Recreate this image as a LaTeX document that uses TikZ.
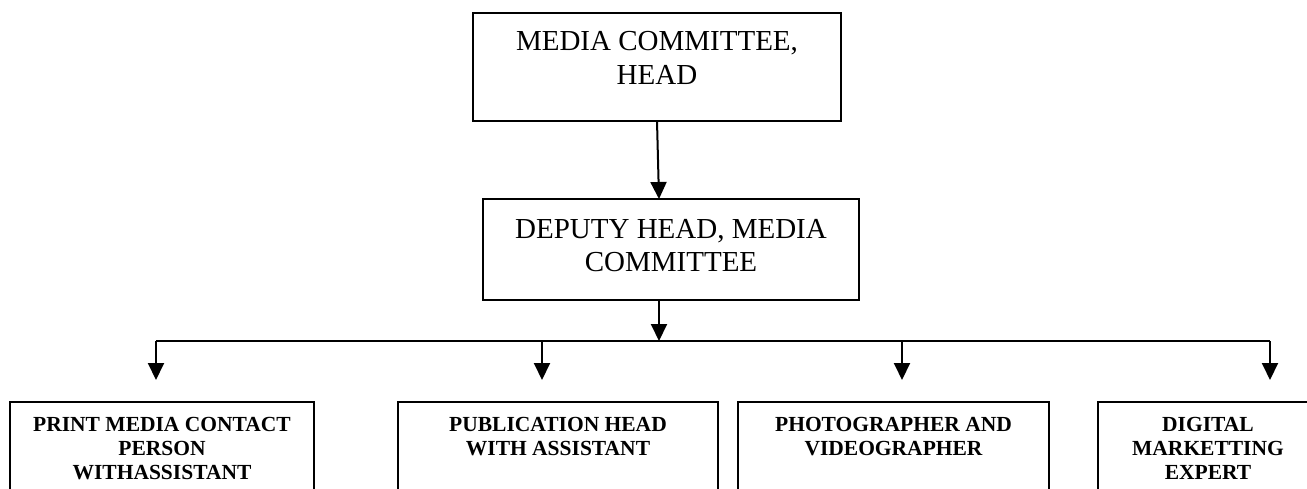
\documentclass[tikz,border=0pt]{standalone}
\usepackage{fontspec}
\setmainfont{Liberation Serif}
\usetikzlibrary{arrows.meta}
\begin{document}
\begin{tikzpicture}[x=1pt,y=-1pt,
  frame/.style={draw=black, line width=1.8pt, rectangle, inner sep=0pt, outer sep=0pt, anchor=north west},
  bigtext/.style={anchor=north, inner sep=0pt, align=center,
    font=\fontsize{29}{33.3}\selectfont},
  smalltext/.style={anchor=north, inner sep=0pt, align=center,
    font=\bfseries\fontsize{21.5}{24}\selectfont},
  link/.style={line width=2pt, -{Triangle[width=16pt,length=17pt]}},
  wire/.style={line width=2pt}]
\useasboundingbox (0,0) rectangle (1307,489);
\clip (0,0) rectangle (1307,489);

% top two levels
\node[frame, minimum width=368pt, minimum height=108pt] (head) at (473,13) {};
\node[bigtext] (headtxt) at ([yshift=-18.5pt]head.north) {MEDIA COMMITTEE,\\HEAD};
\node[frame, minimum width=376pt, minimum height=101pt] (dep) at (483,199) {};
\node[bigtext] (deptxt) at ([yshift=-20pt]dep.north) {DEPUTY HEAD, MEDIA\\COMMITTEE};

% bottom row (boxes run past the lower edge)
\node[frame, minimum width=304pt, minimum height=130pt] (p1) at (10,402) {};
\node[frame, minimum width=320pt, minimum height=130pt] (p2) at (398,402) {};
\node[frame, minimum width=311pt, minimum height=130pt] (p3) at (738,402) {};
\node[frame, minimum width=220pt, minimum height=130pt] (p4) at (1098,402) {};
\node[smalltext] (t1) at ([yshift=-15.3pt]p1.north) {PRINT MEDIA CONTACT\\PERSON\\WITHASSISTANT};
\node[smalltext] (t2) at ([yshift=-15.3pt]p2.north) {PUBLICATION HEAD\\WITH ASSISTANT};
\node[smalltext] (t3) at ([yshift=-15.3pt]p3.north) {PHOTOGRAPHER AND\\VIDEOGRAPHER};
\node[smalltext] (t4) at ([yshift=-15.3pt]p4.north) {DIGITAL\\MARKETTING\\EXPERT};

% distribution bus
\coordinate (bus) at (659,341);
\coordinate (b1) at (156,341);
\coordinate (b2) at (542,341);
\coordinate (b3) at (902,341);
\coordinate (b4) at (1270,341);
\coordinate (e1) at (156,380);
\coordinate (e2) at (542,380);
\coordinate (e3) at (902,380);
\coordinate (e4) at (1270,380);

% connectors
\draw[link] (head.south) -- ([xshift=-12pt]dep.north);
\draw[link] (dep.south -| bus) -- (bus);
\draw[wire] (b1) -- (b4);
\draw[link] (b1) -- (e1);
\draw[link] (b2) -- (e2);
\draw[link] (b3) -- (e3);
\draw[link] (b4) -- (e4);
\end{tikzpicture}
\end{document}
